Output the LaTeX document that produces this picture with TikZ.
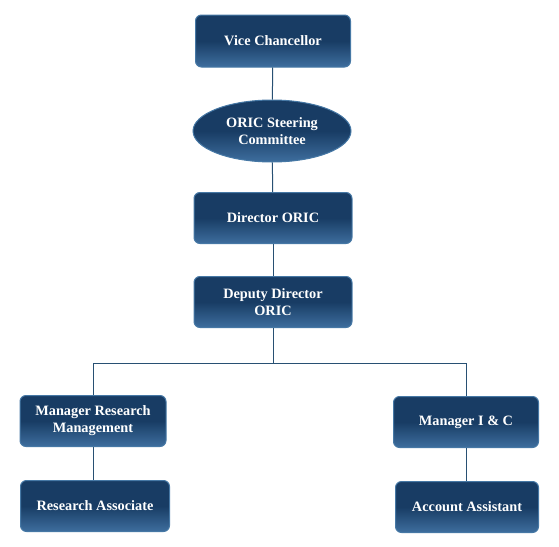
\documentclass[tikz,border=0pt]{standalone}
\usepackage{fontspec}
\setmainfont{Liberation Serif}
\usetikzlibrary{shapes.geometric}
\definecolor{boxtop}{RGB}{24,60,100}
\definecolor{boxbot}{RGB}{62,110,158}
\definecolor{boxrim}{RGB}{70,120,165}
\definecolor{linecol}{RGB}{40,80,115}
\tikzset{
    unitbox/.style={draw=boxrim, line width=1pt, rounded corners=6pt,
        top color=boxtop, bottom color=boxbot, middle color=boxtop,
        text=white, font=\fontsize{14.3}{17}\selectfont\bfseries, align=center,
        inner sep=0pt},
    unitoval/.style={unitbox, ellipse, rounded corners=0pt},
    link/.style={draw=linecol, line width=1pt}
}
\begin{document}
\begin{tikzpicture}[x=1pt, y=-1pt]
    \useasboundingbox (0, 0) rectangle (559, 546);

    % Boxes
    \node[unitbox, minimum width=155pt, minimum height=52pt] (VC) at (273, 41) {Vice Chancellor};
    \node[unitoval, minimum width=158pt, minimum height=62pt] (SC) at (272, 131) {ORIC Steering\\Committee};
    \node[unitbox, minimum width=158pt, minimum height=51pt] (DIR) at (273, 218) {Director ORIC};
    \node[unitbox, minimum width=158pt, minimum height=51pt] (DD) at (273, 302) {Deputy Director\\ORIC};
    \node[unitbox, minimum width=146pt, minimum height=51pt] (MRM) at (93, 421) {Manager Research\\Management};
    \node[unitbox, minimum width=149pt, minimum height=51pt] (RA) at (95, 506) {Research Associate};
    \node[unitbox, minimum width=145pt, minimum height=51pt] (MIC) at (466, 422) {Manager I \& C};
    \node[unitbox, minimum width=143pt, minimum height=51pt] (AA) at (467, 507) {Account Assistant};

    % Junction
    \coordinate (J) at (273, 363);

    % Lines
    \draw[link] (VC) -- (SC);
    \draw[link] (SC) -- (DIR);
    \draw[link] (DIR) -- (DD);
    \draw[link] (DD) -- (J);
    \draw[link] (J) -| (MRM);
    \draw[link] (J) -| (MIC);
    \draw[link] (MRM) -- (MRM |- RA.north);
    \draw[link] (MIC) -- (MIC |- AA.north);
\end{tikzpicture}
\end{document}
